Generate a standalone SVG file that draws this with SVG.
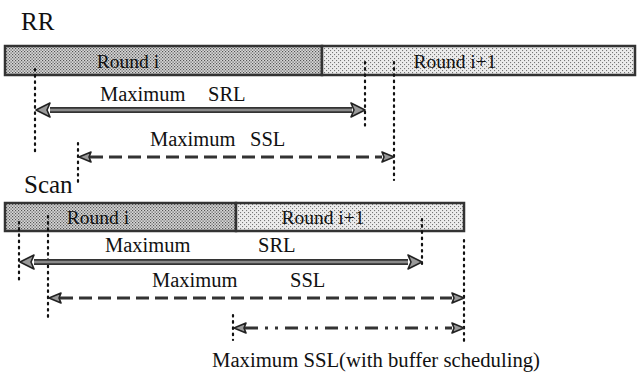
<svg xmlns="http://www.w3.org/2000/svg" width="637" height="374" viewBox="0 0 637 374">
<style>
text{font-family:"Liberation Serif","Times New Roman",serif;fill:#111}
.title{font-size:25px}
.lbl{font-size:20.5px}
.bar{font-size:19.5px}
.dot{stroke:#111;stroke-width:2.2;stroke-dasharray:1.6 4.6;stroke-linecap:round;fill:none}
.bdr{fill:none;stroke:#333;stroke-width:2.5}
.thickO{stroke:#333;stroke-width:6;fill:none}
.thickI{stroke:#8a8a8a;stroke-width:2.5;fill:none}
.dash{stroke:#333;stroke-width:3.2;stroke-dasharray:13 6;fill:none}
.dashdot{stroke:#333;stroke-width:3.2;stroke-dasharray:13 7 3 7 3 7;fill:none}
.ah{fill:#999;stroke:#222;stroke-width:1.6;stroke-linejoin:round}
</style>
<defs>
<pattern id="dense" width="3" height="3" patternUnits="userSpaceOnUse">
<rect width="3" height="3" fill="#d8d8d8"/>
<rect width="1.2" height="1.2" fill="#555"/>
<rect x="1.5" y="1.5" width="1.2" height="1.2" fill="#555"/>
</pattern>
<pattern id="light" width="4" height="4" patternUnits="userSpaceOnUse">
<rect width="4" height="4" fill="#ececec"/>
<rect width="1.1" height="1.1" fill="#777"/>
<rect x="2" y="2" width="1.1" height="1.1" fill="#777"/>
</pattern>
<marker id="big" markerUnits="userSpaceOnUse" markerWidth="20" markerHeight="20" refX="14" refY="9" orient="auto-start-reverse" viewBox="0 0 20 18">
<path class="ah" d="M1,2 L15,9 L1,16 L4,9 Z"/>
</marker>
<marker id="small" markerUnits="userSpaceOnUse" markerWidth="16" markerHeight="16" refX="12" refY="7" orient="auto-start-reverse" viewBox="0 0 16 14">
<path class="ah" d="M1,2 L13,7 L1,12 L3,7 Z"/>
</marker>
</defs>

<g id="rr-title"><text class="title" x="21" y="30">RR</text></g>

<g id="rr-round-i">
<rect x="5" y="46" width="317" height="29" fill="url(#dense)"/>
<rect x="5" y="46" width="317" height="29" class="bdr"/>
<text class="bar" x="128" y="68" text-anchor="middle">Round i</text>
</g>
<g id="rr-round-i1">
<rect x="322" y="46" width="313" height="29" fill="url(#light)"/>
<rect x="322" y="46" width="313" height="29" class="bdr"/>
<text class="bar" x="455" y="68" text-anchor="middle">Round i+1</text>
</g>

<g id="scan-title"><text class="title" x="24" y="193">Scan</text></g>

<g id="scan-round-i">
<rect x="5" y="203" width="231" height="28" fill="url(#dense)"/>
<rect x="5" y="203" width="231" height="28" class="bdr"/>
<text class="bar" x="98" y="224" text-anchor="middle">Round i</text>
</g>
<g id="scan-round-i1">
<rect x="236" y="203" width="228" height="28" fill="url(#light)"/>
<rect x="236" y="203" width="228" height="28" class="bdr"/>
<text class="bar" x="323" y="224" text-anchor="middle">Round i+1</text>
</g>

<g id="labels">
<text class="lbl" x="100" y="101">Maximum</text>
<text class="lbl" x="208" y="101">SRL</text>
<text class="lbl" x="150" y="146">Maximum</text>
<text class="lbl" x="250" y="146">SSL</text>
<text class="lbl" x="105" y="252">Maximum</text>
<text class="lbl" x="258" y="252">SRL</text>
<text class="lbl" x="152" y="287">Maximum</text>
<text class="lbl" x="290" y="287">SSL</text>
<text class="lbl" x="212" y="367" textLength="328" lengthAdjust="spacingAndGlyphs">Maximum SSL(with buffer scheduling)</text>
</g>

<g id="connectors">
<line class="dot" x1="35" y1="69" x2="35" y2="155"/>
<line class="dot" x1="365" y1="62" x2="365" y2="126"/>
<line class="dot" x1="394" y1="62" x2="394" y2="180"/>
<line class="dot" x1="78" y1="143" x2="78" y2="186"/>
<line class="thickO" x1="50" y1="110" x2="352" y2="110"/>
<line class="thickI" x1="50" y1="110" x2="352" y2="110"/>
<line x1="37" y1="110" x2="364" y2="110" stroke="none" marker-start="url(#big)" marker-end="url(#big)"/>
<line class="dash" x1="90" y1="157" x2="382" y2="157"/>
<line x1="80" y1="157" x2="393" y2="157" stroke="none" marker-start="url(#small)" marker-end="url(#small)"/>

<line class="dot" x1="19" y1="222" x2="19" y2="281"/>
<line class="dot" x1="48" y1="216" x2="48" y2="318"/>
<line class="dot" x1="422" y1="219" x2="422" y2="266"/>
<line class="dot" x1="464" y1="240" x2="464" y2="345"/>
<line class="dot" x1="233" y1="315" x2="233" y2="340"/>
<line class="thickO" x1="34" y1="262" x2="408" y2="262"/>
<line class="thickI" x1="34" y1="262" x2="408" y2="262"/>
<line x1="21" y1="262" x2="421" y2="262" stroke="none" marker-start="url(#big)" marker-end="url(#big)"/>
<line class="dash" x1="60" y1="298" x2="452" y2="298"/>
<line x1="50" y1="298" x2="463" y2="298" stroke="none" marker-start="url(#small)" marker-end="url(#small)"/>
<line class="dashdot" x1="245" y1="328" x2="452" y2="328"/>
<line x1="235" y1="328" x2="463" y2="328" stroke="none" marker-start="url(#small)" marker-end="url(#small)"/>
</g>
</svg>
